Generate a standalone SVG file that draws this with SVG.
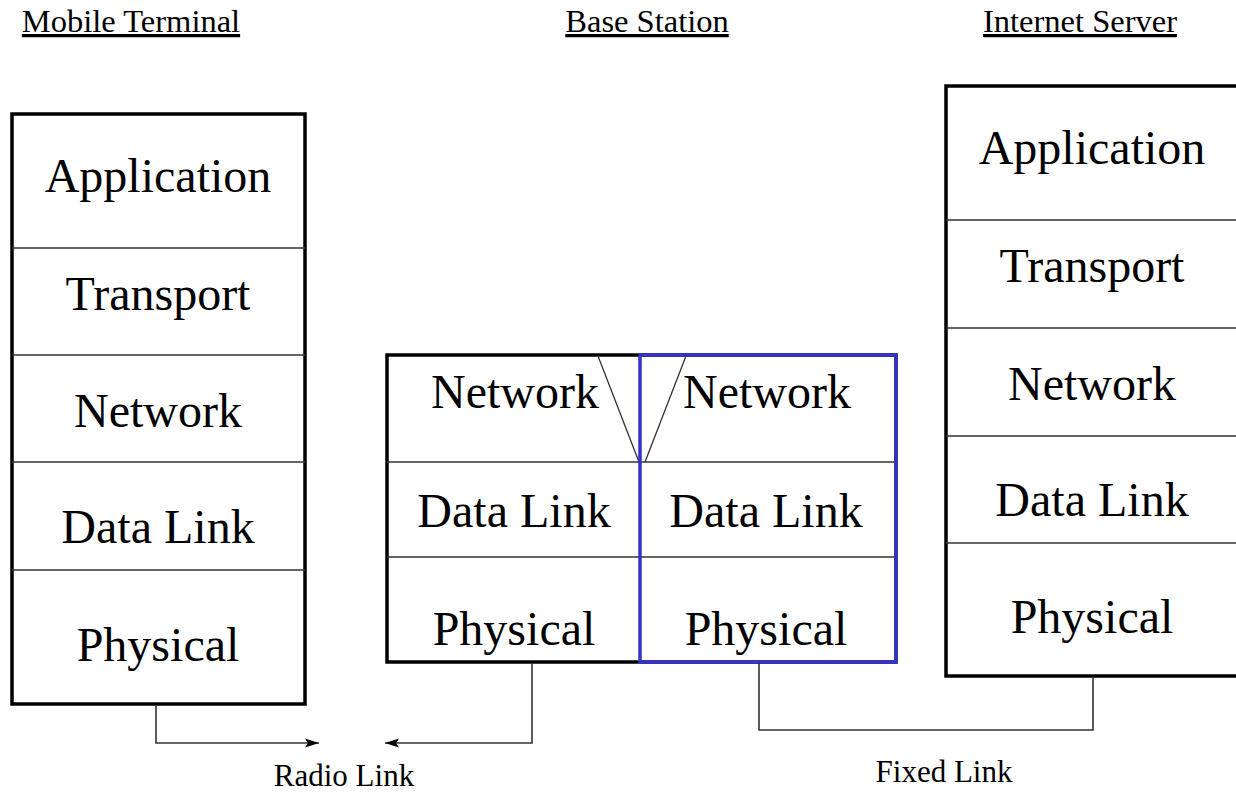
<svg xmlns="http://www.w3.org/2000/svg" width="1236" height="796" viewBox="0 0 1236 796">
<style>
.lbl{font-family:"Liberation Serif","Times New Roman",serif;font-size:48px;fill:#000;text-anchor:middle}
.hdr{font-family:"Liberation Serif","Times New Roman",serif;font-size:32.5px;fill:#000;text-anchor:middle;text-decoration:underline}
.cap{font-family:"Liberation Serif","Times New Roman",serif;font-size:31px;fill:#000;text-anchor:middle}
.box{fill:#fff;stroke:#000;stroke-width:3.5}
.blue{fill:none;stroke:#3333cc;stroke-width:3.5}
.div{stroke:#333;stroke-width:1.3;fill:none}
.con{stroke:#333;stroke-width:1.6;fill:none}
</style>
<defs>
<marker id="ah" viewBox="0 0 14 10" refX="14" refY="5" markerWidth="14" markerHeight="10" markerUnits="userSpaceOnUse" orient="auto">
<path d="M0,0.5 L14,5 L0,9.5 L3,5 Z" fill="#000"/>
</marker>
</defs>
<rect width="1236" height="796" fill="#fff"/>
<g id="headers">
<text class="hdr" x="131" y="32">Mobile Terminal</text>
<text class="hdr" x="647" y="32">Base Station</text>
<text class="hdr" x="1080" y="32">Internet Server</text>
</g>
<g id="mobile-terminal">
<rect class="box" x="12" y="114" width="293" height="590"/>
<path class="div" d="M12,248H305M12,355H305M12,462H305M12,570H305"/>
<text class="lbl" x="158" y="192">Application</text>
<text class="lbl" x="158" y="310">Transport</text>
<text class="lbl" x="158" y="427">Network</text>
<text class="lbl" x="158" y="543">Data Link</text>
<text class="lbl" x="158" y="661">Physical</text>
</g>
<g id="base-station">
<rect class="box" x="387" y="355" width="509" height="307"/>
<path class="div" d="M387,462H896M387,557H896"/>
<path class="div" d="M598,356L639,462M686,356L645,462"/>
<rect class="blue" x="640" y="355" width="256" height="307"/>
<text class="lbl" x="515" y="408">Network</text>
<text class="lbl" x="767" y="408">Network</text>
<text class="lbl" x="514" y="527">Data Link</text>
<text class="lbl" x="766" y="527">Data Link</text>
<text class="lbl" x="514" y="645">Physical</text>
<text class="lbl" x="766" y="645">Physical</text>
</g>
<g id="internet-server">
<rect class="box" x="946" y="86" width="300" height="590"/>
<path class="div" d="M946,220H1236M946,328H1236M946,436H1236M946,543H1236"/>
<text class="lbl" x="1092" y="164">Application</text>
<text class="lbl" x="1092" y="282">Transport</text>
<text class="lbl" x="1092" y="400">Network</text>
<text class="lbl" x="1092" y="516">Data Link</text>
<text class="lbl" x="1092" y="633">Physical</text>
</g>
<g id="connectors">
<path class="con" d="M156,705V743H319" marker-end="url(#ah)"/>
<path class="con" d="M532,663V743H385" marker-end="url(#ah)"/>
<path class="con" d="M759,663V730H1093V677"/>
<text class="cap" x="344" y="786">Radio Link</text>
<text class="cap" x="944" y="782">Fixed Link</text>
</g>
</svg>
